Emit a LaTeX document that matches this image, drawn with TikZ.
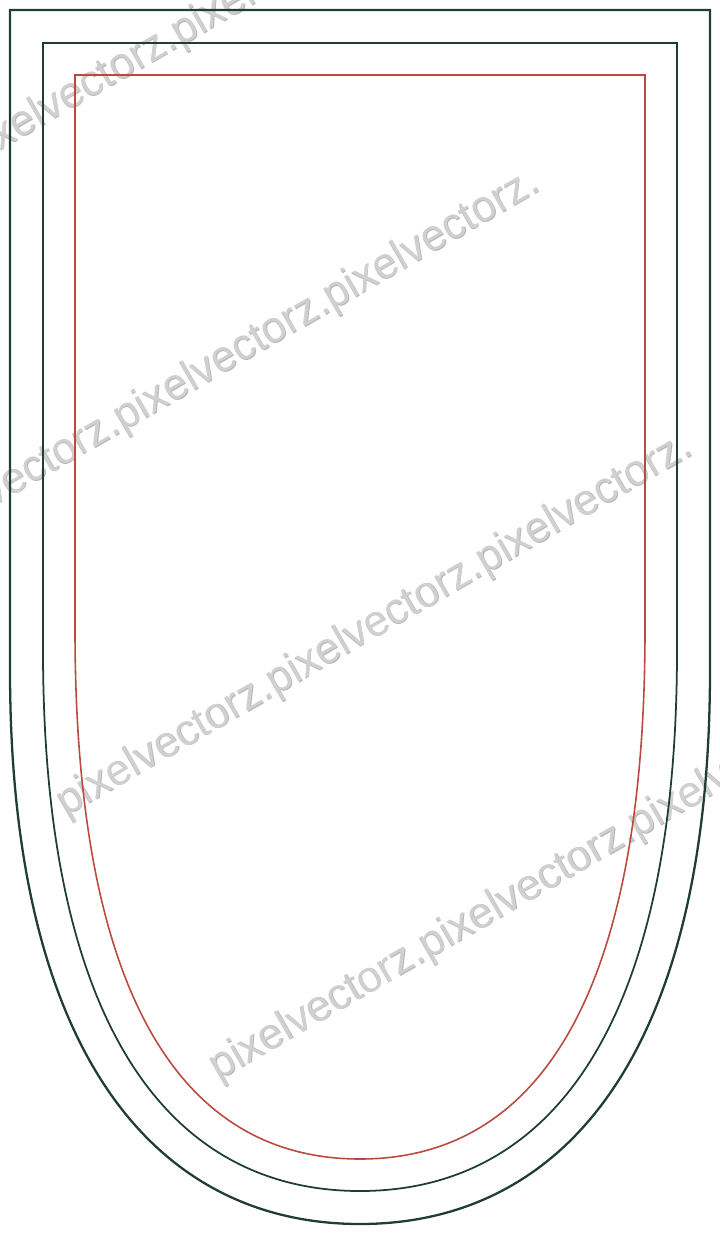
\documentclass[tikz,border=0pt]{standalone}
\usepackage{fontspec}
\usepackage{tikz}
\newfontfamily\wmfont{Liberation Sans}
\definecolor{shieldgreen}{HTML}{1F3D33}
\definecolor{shieldred}{HTML}{B84A40}
\definecolor{wmgray}{HTML}{D0D0D0}
\definecolor{wmshade}{HTML}{B8B8B8}

\begin{document}
\begin{tikzpicture}[x=0.02cm,y=-0.02cm,line join=miter,
  outerline/.style={draw=shieldgreen,line width=1.3pt},
  midline/.style={draw=shieldgreen,line width=1pt},
  innerline/.style={draw=shieldred,line width=0.9pt},
  wmark/.style={text=wmgray,font=\wmfont\fontsize{24.8}{30}\selectfont,
    rotate=30,anchor=base west,inner sep=0pt,outer sep=0pt}]

\useasboundingbox (0,0) rectangle (720,1234);

% watermark (embossed: shade first, then face)
\begin{scope}
\clip (0,0) rectangle (720,1234);
\foreach \s [count=\i] in {130,435,740,1045} {
  \node[wmark,text=wmshade] (wmb\i) at ({-304+0.5*\s+0.7},{176+0.866*\s+0.7})
    {pixelvectorz.pixelvectorz.pixelvectorz.};
  \node[wmark] (wm\i) at ({-304+0.5*\s},{176+0.866*\s})
    {pixelvectorz.pixelvectorz.pixelvectorz.};
}
\end{scope}

% outer border
\path[outerline] (10,670) -- (10,10) -- (710,10) -- (710,670)
  .. controls (710,1060) and (560,1224) .. (360,1224)
  .. controls (160,1224) and (10,1060) .. cycle;

% middle border
\path[midline] (43,650) -- (43,43) -- (677,43) -- (677,650)
  .. controls (677,1035) and (545,1191) .. (360,1191)
  .. controls (175,1191) and (43,1035) .. cycle;

% inner (red) border
\path[innerline] (75,630) -- (75,75) -- (645,75) -- (645,630)
  .. controls (645,1010) and (530,1159) .. (360,1159)
  .. controls (190,1159) and (75,1010) .. cycle;

\end{tikzpicture}
\end{document}
